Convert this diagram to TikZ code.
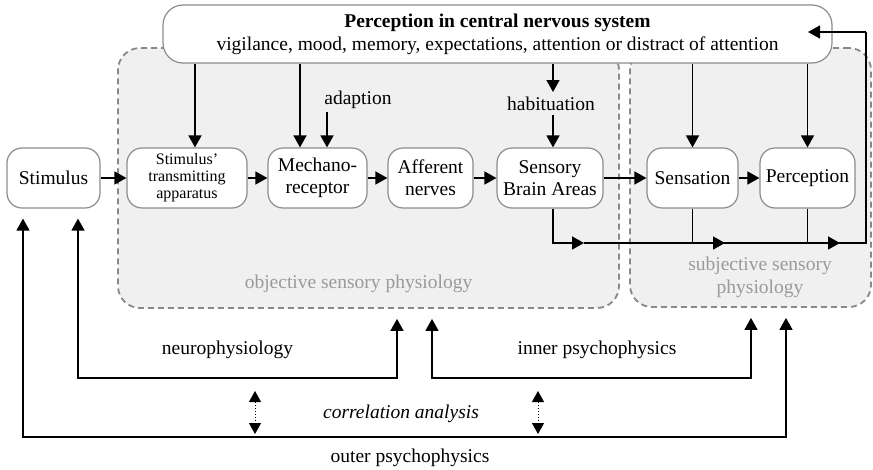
\documentclass[tikz,border=0pt]{standalone}
\usepackage{fontspec}
\setmainfont{Liberation Serif}
\usetikzlibrary{arrows.meta,calc}
\definecolor{boxgray}{HTML}{8C8C8C}
\definecolor{dashgray}{HTML}{888888}
\definecolor{regionfill}{HTML}{F0F0F0}
\definecolor{labelgray}{HTML}{9A9A9A}
\begin{document}
\begin{tikzpicture}[x=1pt,y=-1pt,
  font=\fontsize{19.5}{22}\selectfont,
  box/.style={draw=boxgray, line width=1.2pt, fill=white, rounded corners=15pt,
    minimum height=60pt, inner sep=0pt, align=center},
  region/.style={draw=dashgray, dash pattern=on 6pt off 4pt, line width=1.8pt,
    fill=regionfill, rounded corners=22pt, inner sep=0pt},
  arr/.style={line width=1.5pt, -{Triangle[length=12pt,width=13pt]}},
  darr/.style={line width=1.5pt, {Triangle[length=12pt,width=13pt]}-{Triangle[length=12pt,width=13pt]}},
  ln/.style={line width=1.5pt},
  dotarr/.style={line width=1pt, dotted, {Triangle[length=11pt,width=12pt]}-{Triangle[length=11pt,width=12pt]}},
  lbl/.style={anchor=base, inner sep=0pt},
  glbl/.style={anchor=base, inner sep=0pt, text=labelgray},
]
\useasboundingbox (0,0) rectangle (873,469);

% regions
\node[region, minimum width=501pt, minimum height=260pt] (obj) at (368.5,178) {};
\node[region, minimum width=241pt, minimum height=259pt] (subj) at (750.5,177.5) {};

% top box
\node[box, rounded corners=20pt, minimum width=669pt, minimum height=58pt,
  font=\fontsize{19.5}{23}\selectfont] (top) at (497.5,34)
  {\textbf{Perception in central nervous system}\\vigilance, mood, memory, expectations, attention or distract of attention};

% main nodes
\node[box, minimum width=93pt] (stim) at (53.5,178) {Stimulus};
\node[box, minimum width=120pt, font=\fontsize{16}{17}\selectfont] (app) at (187,178) {Stimulus’\\transmitting\\apparatus};
\node[box, minimum width=99pt] (mech) at (317.5,178) {Mechano-\\receptor};
\node[box, minimum width=85pt] (aff) at (430.5,178) {Afferent\\nerves};
\node[box, minimum width=106pt] (sba) at (550,178) {Sensory\\Brain Areas};
\node[box, minimum width=91pt] (sen) at (692.5,178) {Sensation};
\node[box, minimum width=95pt] (per) at (807.5,178) {Perception};

% labels
\node[lbl] (adapt) at (358,104) {adaption};
\node[lbl] (habit) at (551,110) {habituation};
\node[glbl] (objl) at (358.5,288) {objective sensory physiology};
\node[glbl] (subjl1) at (760,270) {subjective sensory};
\node[glbl] (subjl2) at (760,293) {physiology};
\node[lbl] (neuro) at (227.5,354) {neurophysiology};
\node[lbl] (inner) at (597,354) {inner psychophysics};
\node[lbl] (corr) at (401,418) {\itshape correlation analysis};
\node[lbl] (outer) at (410,462) {outer psychophysics};

% chain arrows
\draw[arr] (stim) -- (app);
\draw[arr] (app) -- (mech);
\draw[arr] (mech) -- (aff);
\draw[arr] (aff) -- (sba);
\draw[arr] (sba) -- (sen);
\draw[arr] (sen) -- (per);

% top-down arrows
\draw[arr] ([xshift=8pt]app.north |- top.south) -- ([xshift=8pt]app.north);
\draw[arr] ([xshift=-17.5pt]mech.north |- top.south) -- ([xshift=-17.5pt]mech.north);
\draw[arr] ([xshift=9.5pt]mech.north |- 0,112) -- ([xshift=9.5pt]mech.north);
\draw[arr] ([xshift=3pt]sba.north |- top.south) -- ([xshift=3pt]sba.north |- 0,92);
\draw[arr] ([xshift=3pt]sba.north |- 0,115) -- ([xshift=3pt]sba.north);
\draw[arr] (sen.north |- top.south) -- (sen.north);
\draw[arr] (per.north |- top.south) -- (per.north);

% feedback loop
\coordinate (fb1) at (584,243);
\coordinate (fb2) at (725,243);
\coordinate (fb3) at (840,243);
\coordinate (fbc) at (866,243);
\coordinate (fbt) at (866,32);
\coordinate (fbend) at (808,32);
\draw[arr] ([xshift=3pt]sba.south) |- (fb1);
\draw[ln] (fb1) -- (fbc) -- (fbt);
\draw[arr] (fbt) -- (fbend);
\draw[arr] (sen.south) |- (fb2);
\draw[arr] (per.south) |- (fb3);

% bottom brackets
\coordinate (nb) at (78,378);
\coordinate (ob) at (23,437);
\draw[darr] ($(stim.south)+(-30.5,10)$) |- (786,437) -- ($(subj.south)+(35.5,10)$);
\draw[darr] ($(stim.south)+(24.5,10)$) |- (397,378) -- ($(obj.south)+(28.5,10)$);
\draw[darr] ($(obj.south)+(63.5,10)$) |- (751,378) -- ($(subj.south)+(0.5,10)$);

% correlation arrows
\coordinate (c1a) at (255,391);
\coordinate (c1b) at (255,434);
\coordinate (c2a) at (538,391);
\coordinate (c2b) at (538,434);
\draw[dotarr] (c1a) -- (c1b);
\draw[dotarr] (c2a) -- (c2b);
\end{tikzpicture}
\end{document}
